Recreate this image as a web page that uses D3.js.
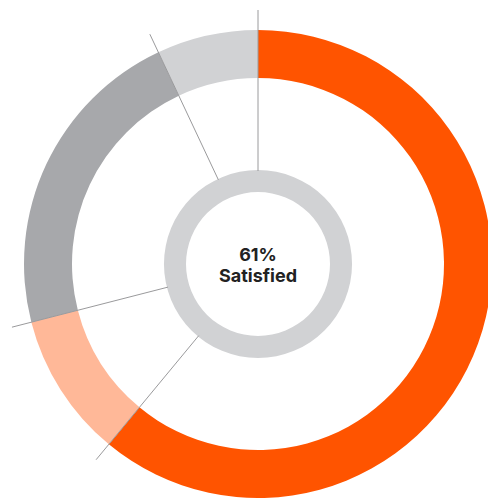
<!DOCTYPE html>
<html>
<head>
<meta charset="utf-8">
<script src="https://cdn.jsdelivr.net/npm/d3@7"></script>
<style>
  html, body { margin: 0; padding: 0; background: #fff; }
  svg { display: block; }
</style>
</head>
<body>
<svg id="chart" width="488" height="498"></svg>
<script>
// Survey responses, share of respondents (%)
const categories = ["Satisfied", "Somewhat satisfied", "Neutral", "Dissatisfied"];
const values = [61, 10, 22, 7];
const colors = ["#FF5400", "#FFB898", "#A7A8AB", "#D1D2D4"];
const centerValue = "61%";
const centerLabel = "Satisfied";

const width = 488, height = 498;
const cx = 258, cy = 264;
const outerR = 234, innerR = 186;
const ringOuter = 94, ringInner = 72;
const leaderStart = 93, leaderEnd = 254;

const svg = d3.select("#chart");
const g = svg.append("g").attr("transform", `translate(${cx},${cy})`);

const pie = d3.pie().sort(null).value(d => d)(values);
const arc = d3.arc().innerRadius(innerR).outerRadius(outerR);

g.selectAll("path.slice")
  .data(pie)
  .join("path")
  .attr("class", "slice")
  .attr("d", arc)
  .attr("fill", (d, i) => colors[i]);

// inner ring
g.append("path")
  .attr("d", d3.arc().innerRadius(ringInner).outerRadius(ringOuter).startAngle(0).endAngle(2 * Math.PI)())
  .attr("fill", "#D1D2D4");

// leader lines along each slice boundary
const angles = pie.map(d => d.startAngle);
g.selectAll("line.leader")
  .data(angles)
  .join("line")
  .attr("class", "leader")
  .attr("x1", a => leaderStart * Math.sin(a))
  .attr("y1", a => -leaderStart * Math.cos(a))
  .attr("x2", a => leaderEnd * Math.sin(a))
  .attr("y2", a => -leaderEnd * Math.cos(a))
  .attr("stroke", "#9A9A9C")
  .attr("stroke-width", 1);

// center label
g.append("text")
  .attr("x", 0).attr("y", -3)
  .attr("text-anchor", "middle")
  .attr("font-family", "Inter, 'Noto Sans', sans-serif")
  .attr("font-weight", 700)
  .attr("font-size", 18)
  .attr("fill", "#222222")
  .text(centerValue);

g.append("text")
  .attr("x", 0).attr("y", 18)
  .attr("text-anchor", "middle")
  .attr("font-family", "Inter, 'Noto Sans', sans-serif")
  .attr("font-weight", 700)
  .attr("font-size", 18)
  .attr("fill", "#222222")
  .text(centerLabel);
</script>
</body>
</html>
